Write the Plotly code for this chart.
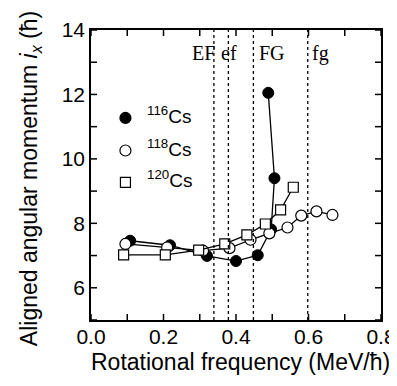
import plotly.graph_objects as go

# Data
x116 = [0.108, 0.218, 0.320, 0.400, 0.460, 0.497, 0.506, 0.489]
y116 = [7.46, 7.32, 6.99, 6.83, 7.01, 7.81, 9.40, 12.05]

x118 = [0.095, 0.210, 0.309, 0.382, 0.440, 0.492, 0.542, 0.580, 0.622, 0.666]
y118 = [7.36, 7.25, 7.15, 7.23, 7.49, 7.69, 7.87, 8.24, 8.37, 8.26]

x120 = [0.090, 0.205, 0.297, 0.369, 0.430, 0.481, 0.523, 0.558]
y120 = [7.02, 7.02, 7.17, 7.36, 7.64, 7.98, 8.42, 9.12]

crossing_x = [0.339, 0.379, 0.448, 0.598]
crossing_labels = ["EF", "ef", "FG", "fg"]

legend_labels = ["<sup>116</sup>Cs", "<sup>118</sup>Cs", "<sup>120</sup>Cs"]

x_tickvals = [0.0, 0.1, 0.2, 0.3, 0.4, 0.5, 0.6, 0.7, 0.8]
x_ticktext = ["0.0", "", "0.2", "", "0.4", "", "0.6", "", "0.8"]
y_tickvals = [5, 6, 7, 8, 9, 10, 11, 12, 13, 14]
y_ticktext = ["", "6", "", "8", "", "10", "", "12", "", "14"]

X_RANGE = [0, 0.8]
Y_RANGE = [5, 14]

FONT = "Liberation Sans, Arial, Helvetica, sans-serif"
SERIF = "Liberation Serif, Times New Roman, serif"

fig = go.Figure()

line = dict(color="black", width=1.3)
fig.add_trace(go.Scatter(x=x116, y=y116, mode="lines+markers", line=line,
                         marker=dict(symbol="circle", size=11, color="black",
                                     line=dict(color="black", width=1)),
                         showlegend=False))
fig.add_trace(go.Scatter(x=x118, y=y118, mode="lines+markers", line=line,
                         marker=dict(symbol="circle", size=11, color="white",
                                     line=dict(color="black", width=1.2)),
                         showlegend=False))
fig.add_trace(go.Scatter(x=x120, y=y120, mode="lines+markers", line=line,
                         marker=dict(symbol="square", size=10, color="white",
                                     line=dict(color="black", width=1.2)),
                         showlegend=False))

# manual legend
leg_x = 0.095
leg_y = [11.27, 10.26, 9.27]
leg_sym = ["circle", "circle", "square"]
leg_fill = ["black", "white", "white"]
leg_size = [11, 11, 10]
for ly, s, f, sz, lab in zip(leg_y, leg_sym, leg_fill, leg_size, legend_labels):
    fig.add_trace(go.Scatter(x=[leg_x], y=[ly], mode="markers",
                             marker=dict(symbol=s, size=sz, color=f,
                                         line=dict(color="black", width=1.2)),
                             showlegend=False))
    fig.add_annotation(x=0.149, y=ly, text=lab, showarrow=False, xanchor="left",
                       yanchor="middle", yshift=3,
                       font=dict(family=FONT, size=19, color="black"))

for cx in crossing_x:
    fig.add_shape(type="line", x0=cx, x1=cx, y0=Y_RANGE[0], y1=Y_RANGE[1], xref="x", yref="y",
                  line=dict(color="black", width=1.3, dash="dot"))

# inside tick marks on all four sides (about 6 px long), in axis units
PLOT_PX = 290.0
tlx = 6.0 / PLOT_PX * (X_RANGE[1] - X_RANGE[0])
tly = 6.0 / PLOT_PX * (Y_RANGE[1] - Y_RANGE[0])
tick_line = dict(color="black", width=1.5)
for tv in x_tickvals:
    fig.add_shape(type="line", xref="x", yref="y", x0=tv, x1=tv,
                  y0=Y_RANGE[0], y1=Y_RANGE[0] + tly, line=tick_line)
    fig.add_shape(type="line", xref="x", yref="y", x0=tv, x1=tv,
                  y0=Y_RANGE[1] - tly, y1=Y_RANGE[1], line=tick_line)
for tv in y_tickvals:
    fig.add_shape(type="line", xref="x", yref="y", x0=X_RANGE[0], x1=X_RANGE[0] + tlx,
                  y0=tv, y1=tv, line=tick_line)
    fig.add_shape(type="line", xref="x", yref="y", x0=X_RANGE[1] - tlx, x1=X_RANGE[1],
                  y0=tv, y1=tv, line=tick_line)

# crossing labels
lab_y = 13.28
fig.add_annotation(x=crossing_x[0], y=lab_y, text=crossing_labels[0], showarrow=False,
                   xanchor="right", yanchor="middle", xshift=3,
                   font=dict(family=SERIF, size=20, color="black"))
fig.add_annotation(x=crossing_x[1], y=lab_y, text=crossing_labels[1], showarrow=False,
                   xanchor="center", yanchor="middle", xshift=1,
                   font=dict(family=SERIF, size=20, color="black"))
fig.add_annotation(x=crossing_x[2], y=lab_y, text=crossing_labels[2], showarrow=False,
                   xanchor="left", yanchor="middle", xshift=4,
                   font=dict(family=SERIF, size=20, color="black"))
fig.add_annotation(x=crossing_x[3], y=lab_y, text=crossing_labels[3], showarrow=False,
                   xanchor="left", yanchor="middle", xshift=2,
                   font=dict(family=SERIF, size=20, color="black"))

# axis titles as annotations for exact placement
fig.add_annotation(xref="paper", yref="paper", x=0.516, y=-0.145,
                   text="Rotational frequency (MeV/ħ)", showarrow=False,
                   xanchor="center", yanchor="middle",
                   font=dict(family=FONT, size=23, color="black"))
fig.add_annotation(xref="paper", yref="paper", x=-0.21, y=0.486,
                   text="Aligned angular momentum <i>i</i><sub><i>x</i></sub> (ħ)",
                   textangle=-90, showarrow=False,
                   xanchor="center", yanchor="middle",
                   font=dict(family=FONT, size=23, color="black"))

axis_common = dict(showline=True, linecolor="black", linewidth=1.5, mirror=True,
                   ticks="", showgrid=False, zeroline=False, automargin=False,
                   tickfont=dict(family=FONT, size=21, color="black"))

fig.update_xaxes(range=X_RANGE, tickvals=x_tickvals, ticktext=x_ticktext,
                 ticklabelstandoff=-3, **axis_common)
fig.update_yaxes(range=Y_RANGE, tickvals=y_tickvals, ticktext=y_ticktext, **axis_common)

# the page body adds an 8px margin, so the figure is sized to fit the window
fig.update_layout(width=389, height=378, margin=dict(l=83, r=16, t=22, b=66),
                  plot_bgcolor="white", paper_bgcolor="white", showlegend=False)

fig.write_html("out.html")
